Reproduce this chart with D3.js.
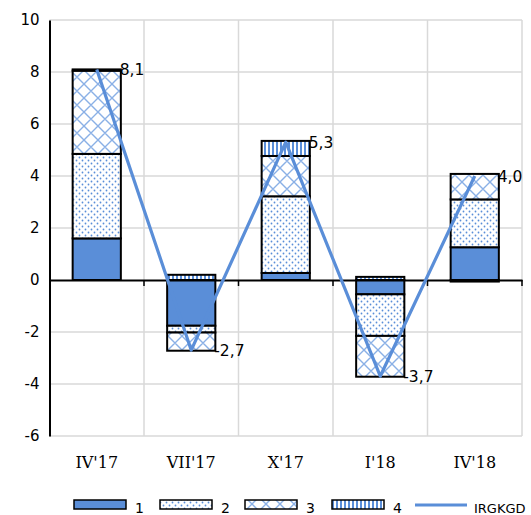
<!DOCTYPE html>
<html><head><meta charset="utf-8">
<script src="https://cdn.jsdelivr.net/npm/d3@7/dist/d3.min.js"></script>
<style>html,body{margin:0;padding:0;background:#fff;}svg{display:block;}</style>
</head><body>
<svg id="c" width="531" height="515"></svg>
<script>
const categories = ["IV'17","VII'17","X'17","I'18","IV'18"];
const s1 = [1.6, -1.76, 0.27, -0.55, 1.26];
const s2 = [3.25, -0.26, 2.95, -1.6, 1.84];
const s3 = [3.2, -0.7, 1.55, -1.57, 0.98];
const s4 = [0.05, 0.2, 0.58, 0.12, -0.06];
const irgkgd = [8.1, -2.7, 5.3, -3.7, 4.0];
const labels = ["8,1","-2,7","5,3","-3,7","4,0"];
const yTicks = [10,8,6,4,2,0,-2,-4,-6];
const seriesNames = ["1","2","3","4"];

const blue = "#5A8ED8";
const svg = d3.select("#c");
const x = d3.scaleBand().domain(categories).range([49.5, 522]).paddingInner(0.49).paddingOuter(0.245);
const xb = d3.scaleBand().domain(categories).range([49.5, 522]);
const y = d3.scaleLinear().domain([-6, 10]).range([436, 20]);

const defs = svg.append("defs");
const pd = defs.append("pattern").attr("id","p2").attr("patternUnits","userSpaceOnUse").attr("width",6).attr("height",6);
pd.append("rect").attr("width",6).attr("height",6).attr("fill","#fff");
pd.append("circle").attr("cx",1.5).attr("cy",1.5).attr("r",0.9).attr("fill",blue);
pd.append("circle").attr("cx",4.5).attr("cy",4.5).attr("r",0.9).attr("fill",blue);
const pc = defs.append("pattern").attr("id","p3").attr("patternUnits","userSpaceOnUse").attr("width",14).attr("height",14);
pc.append("rect").attr("width",14).attr("height",14).attr("fill","#fff");
pc.append("path").attr("d","M0,0L14,14M14,0L0,14M-7,7L0,14M7,-7L21,7M-7,7L7,-7M7,21L21,7").attr("stroke","#8AB0E6").attr("stroke-width",1.4).attr("fill","none");
const ps = defs.append("pattern").attr("id","p4").attr("patternUnits","userSpaceOnUse").attr("width",4).attr("height",4);
ps.append("rect").attr("width",4).attr("height",4).attr("fill","#fff");
ps.append("rect").attr("width",2).attr("height",4).attr("fill",blue);
const fills = [blue, "url(#p2)", "url(#p3)", "url(#p4)"];

// grid
svg.append("g").selectAll("line").data(yTicks.filter(d=>d!==0)).join("line")
  .attr("x1",49.5).attr("x2",522).attr("y1",d=>y(d)).attr("y2",d=>y(d))
  .attr("stroke","#d9d9d9").attr("stroke-width",1.5);
svg.append("g").selectAll("line").data(categories).join("line")
  .attr("x1",d=>xb(d)+xb.bandwidth()).attr("x2",d=>xb(d)+xb.bandwidth())
  .attr("y1",20).attr("y2",436).attr("stroke","#d9d9d9").attr("stroke-width",1.5);

// y axis
const ya = svg.append("g").attr("transform","translate(49.5,0)")
  .call(d3.axisLeft(y).tickValues(yTicks).tickSize(0).tickPadding(10).tickFormat(d=>String(d)));
ya.select(".domain").attr("stroke","#000").attr("stroke-width",2);
ya.selectAll("text").attr("font-family","DejaVu Sans").attr("font-size",15).attr("fill","#000");

// stacks
const rows = categories.map((c,i)=>({cat:c, "1":s1[i], "2":s2[i], "3":s3[i], "4":s4[i]}));
const stacked = d3.stack().keys(seriesNames).offset(d3.stackOffsetDiverging)(rows);
stacked.forEach((ser,si)=>{
  svg.append("g").selectAll("rect").data(ser).join("rect")
    .attr("x",d=>x(d.data.cat)).attr("width",x.bandwidth())
    .attr("y",d=>y(Math.max(d[0],d[1]))).attr("height",d=>Math.abs(y(d[0])-y(d[1])))
    .attr("fill",fills[si]).attr("stroke","#000").attr("stroke-width",2);
});

// zero axis
const xa = svg.append("g").attr("transform",`translate(0,${y(0)})`)
  .call(d3.axisBottom(xb).tickSize(0).tickFormat(""));
xa.select(".domain").attr("stroke","#000").attr("stroke-width",2);
svg.append("g").selectAll("line").data(categories).join("line")
  .attr("x1",d=>xb(d)+xb.bandwidth()).attr("x2",d=>xb(d)+xb.bandwidth())
  .attr("y1",y(0)).attr("y2",y(0)+6).attr("stroke","#000").attr("stroke-width",1.5);

// x labels
svg.append("g").selectAll("text").data(categories).join("text")
  .attr("x",d=>xb(d)+xb.bandwidth()/2).attr("y",468).attr("text-anchor","middle")
  .attr("font-family","DejaVu Serif").attr("font-size",16).attr("fill","#000").text(d=>d);

// line
const cx = d=>x(d)+x.bandwidth()/2;
svg.append("path").datum(irgkgd)
  .attr("d", d3.line().x((d,i)=>cx(categories[i])).y(d=>y(d)))
  .attr("fill","none").attr("stroke",blue).attr("stroke-width",3.2).attr("stroke-linejoin","round");

svg.append("g").selectAll("text").data(irgkgd).join("text")
  .attr("x",(d,i)=>cx(categories[i])+23).attr("y",d=>y(d)+6)
  .attr("font-family","DejaVu Sans").attr("font-size",15.5).attr("fill","#000")
  .text((d,i)=>labels[i]);

// legend
const leg = [
  {x:74, name:"1", fill:fills[0]},
  {x:160, name:"2", fill:fills[1]},
  {x:245, name:"3", fill:fills[2]},
  {x:332, name:"4", fill:fills[3]}
];
const lg = svg.append("g");
leg.forEach(l=>{
  lg.append("rect").attr("x",l.x).attr("y",500).attr("width",52).attr("height",9)
    .attr("fill",l.fill).attr("stroke","#000").attr("stroke-width",1.5);
  lg.append("text").attr("x",l.x+61).attr("y",513).attr("font-family","DejaVu Sans")
    .attr("font-size",14).attr("fill","#000").text(l.name);
});
lg.append("line").attr("x1",415).attr("x2",467).attr("y1",505).attr("y2",505)
  .attr("stroke",blue).attr("stroke-width",3.2);
lg.append("text").attr("x",474).attr("y",513).attr("font-family","DejaVu Sans")
  .attr("font-size",13).attr("fill","#000").text("IRGKGD");
</script>
</body></html>
